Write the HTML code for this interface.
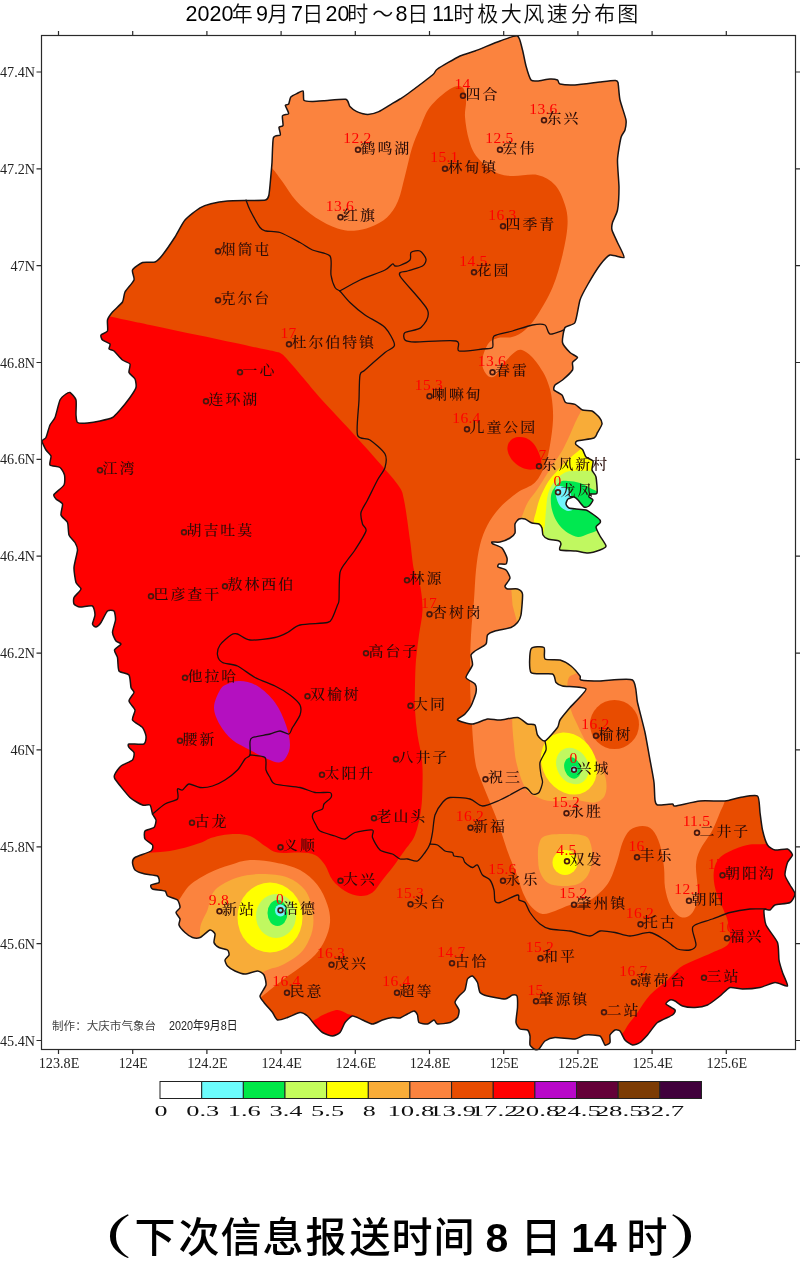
<!DOCTYPE html>
<html lang="zh"><head><meta charset="utf-8"><title>极大风速分布图</title>
<style>html,body{margin:0;padding:0;background:#fff}body{width:800px;height:1274px;overflow:hidden}svg{display:block}.st{font-family:"Liberation Serif","Noto Serif CJK SC",serif;font-size:15px;font-weight:500;fill:#280c08;letter-spacing:1.9px}.val{font-family:"Liberation Serif",serif;font-size:15.5px;fill:#ff0000;text-anchor:middle;letter-spacing:0.3px}.ax{font-family:"Liberation Serif",serif;font-size:14.5px;fill:#222}.lg{font-family:"Liberation Serif",serif;font-size:15px;fill:#111}.tl{font-family:"Liberation Sans","Noto Sans CJK SC",sans-serif;font-size:21.5px;fill:#000}.tc{font-family:"Liberation Sans","Noto Sans CJK SC",sans-serif;font-size:21px;font-weight:350;fill:#0a0a0a}.ft{font-family:"Liberation Sans","Noto Sans CJK SC",sans-serif;font-size:41px;font-weight:500;fill:#000;text-anchor:middle}.ftl{font-family:"Liberation Sans",sans-serif;font-size:41px;font-weight:700;fill:#000;text-anchor:middle}.ftp{font-family:"Liberation Serif","Noto Serif CJK SC",serif;font-size:42px;font-weight:700;fill:#000;text-anchor:middle}.cr{font-family:"Liberation Sans","Noto Sans CJK SC",sans-serif;font-size:11.5px;fill:#444}</style></head><body>
<svg width="800" height="1274" viewBox="0 0 800 1274" role="img" aria-label="2020年9月7日20时～8日11时极大风速分布图">
<rect width="800" height="1274" fill="#fff"/>
<defs><clipPath id="mapclip"><path d="M273.4,137.8 C274.3,134.9 279.7,136.1 280.3,135 C280.9,133.9 278.7,128.3 279,127.3 C279.3,126.3 282.6,126.6 283,125.4 C283.4,124.2 281.9,117.1 282.5,115.8 C283.1,114.5 288.3,114.7 288.6,113.6 C288.9,112.5 285.3,106.3 285.3,105.3 C285.3,104.3 288,105.1 288.6,104.2 C289.2,103.3 289.9,98.1 290.8,97 C291.7,95.9 295.7,94.1 297,93.5 C298.3,92.9 302.4,90.3 303.1,91 C303.8,91.7 303.1,99.3 304,100.4 C304.9,101.5 309.9,101.5 312,101.5 C314.1,101.5 320.2,101 323.8,100.8 C327.4,100.6 343,98.7 345.8,99.3 C348.6,99.9 348.7,105.2 349.9,106.5 C351.1,107.8 354.9,110.8 356.8,111.6 C358.7,112.4 365.5,114.4 367.8,114.4 C370.1,114.4 376.2,112.8 378.8,111.6 C381.4,110.4 390.2,104.7 392.5,103.4 C394.8,102.1 398.4,100 400,99 C401.6,98 404,96.6 407.5,94 C411,91.4 429.3,77.7 432.5,75 C435.7,72.3 434.6,71 437.5,69 C440.4,67 456,57.9 460,56 C464,54.1 470.7,52.6 475,51 C479.3,49.4 495.5,42.6 500,41 C504.5,39.4 515.1,35 517.5,36 C519.9,37 521.6,46.8 522.5,50 C523.4,53.2 525.1,62.8 526,66 C526.9,69.2 529.8,78.4 531,80 C532.2,81.6 535.5,81.1 537.5,81 C539.5,80.9 547.9,79.1 550,79 C552.1,78.9 556.4,79.5 557.5,80 C558.6,80.5 558.1,83.5 560,84 C561.9,84.5 570.7,85.2 575,85 C579.3,84.8 595.7,82.5 600,82 C604.3,81.5 613.1,80.4 615,80.5 C616.9,80.6 617.5,80.4 618,82.5 C618.5,84.6 619.1,96 620,100 C620.9,104 625.5,116.8 626,120 C626.5,123.2 625.5,128.1 625,130 C624.5,131.9 621.8,134.3 621,137.5 C620.2,140.7 617.7,154.7 617.5,160 C617.3,165.3 619,182.2 619,187.5 C619,192.8 618.2,206.3 617.5,210 C616.8,213.7 613.1,220.4 612.5,222.5 C611.9,224.6 611.5,227.9 612,230 C612.5,232.1 616.2,239.6 617.5,242.5 C618.8,245.4 624.8,256.2 624,257.5 C623.2,258.8 612.6,254.2 610,255 C607.4,255.8 602.4,261.8 600,265 C597.6,268.2 589.6,281.3 587.5,285 C585.4,288.7 581.3,296 580,300 C578.7,304 576.6,319.6 575,322.5 C573.4,325.4 566.3,325.4 565,327.5 C563.7,329.6 562,339.8 562.5,342.5 C563,345.2 568.4,350.9 570,352.5 C571.6,354.1 577.2,356.4 577.5,357.5 C577.8,358.6 573,361.2 572.5,362.5 C572,363.8 573.6,368.1 572.5,370 C571.4,371.9 564.4,378.4 562.5,380 C560.6,381.6 555.9,383.9 555,385 C554.1,386.1 553.3,388.9 554,390 C554.7,391.1 560.8,393.7 562,395 C563.2,396.3 564.2,401.5 565.6,402.5 C567,403.5 573.2,403.6 575,404.4 C576.8,405.2 580.7,409.3 582.5,410 C584.3,410.7 590.2,410.2 592,411 C593.8,411.8 598.3,416.1 599.4,417.5 C600.5,418.9 602.2,422.4 602,424 C601.8,425.6 598.4,431 597.5,432.5 C596.6,434 596.2,437.1 594,438 C591.8,438.9 578.9,440.3 577,441 C575.1,441.7 575.4,443.8 576,444.7 C576.6,445.6 581.4,448.1 582.5,449.4 C583.6,450.7 584.9,455.8 586,457 C587.1,458.2 592.4,459.6 593,461 C593.6,462.4 591.7,468.3 592,470 C592.3,471.7 595.5,474.5 596,477 C596.5,479.5 597.6,491.2 597,493 C596.4,494.8 590.9,493.6 590,494 C589.1,494.4 588.7,496.4 589,497 C589.3,497.6 593,499 593,500 C593,501 590,505.3 589,506 C588,506.7 585.2,507.6 584,507 C582.8,506.4 579.1,501.1 578,500 C576.9,498.9 575.1,497.1 574,497 C572.9,496.9 568.9,498.3 568,499 C567.1,499.7 565.9,503 566,504 C566.1,505 567.9,507.5 569,508 C570.1,508.5 574.2,508.8 576,509 C577.8,509.2 584.1,509.4 586,510 C587.9,510.6 592.5,513.9 594,515 C595.5,516.1 599.4,519.1 600,520 C600.6,520.9 600.4,522.3 600,523 C599.6,523.7 596,525.6 596,527 C596,528.4 598.9,534 600,536 C601.1,538 606,544.5 606,546 C606,547.5 601.9,549.3 600,550 C598.1,550.7 590.6,552.9 588,553 C585.4,553.1 579,551.3 576,551 C573,550.7 561.6,550.7 560,550 C558.4,549.3 561.1,545 561,544 C560.9,543 560.4,541.5 559,541 C557.6,540.5 549.7,539.6 548,539 C546.3,538.4 543.6,536.2 543,535 C542.4,533.8 542.4,529.2 542,528 C541.6,526.8 540.1,524.5 539,524 C537.9,523.5 533.5,523.5 532,523 C530.5,522.5 526.4,519.4 525,519 C523.6,518.6 520.1,518.5 519,519 C517.9,519.5 515.4,522.5 515,524 C514.6,525.5 515.5,531.5 515,533 C514.5,534.5 511.6,537 510,538 C508.4,539 501.9,541.6 500,542 C498.1,542.4 492.7,541.8 492,542 C491.3,542.2 491.9,543.4 493,544 C494.1,544.6 500.5,546.5 502,548 C503.5,549.5 506.6,556.3 507,558 C507.4,559.7 506.9,563.4 506,564 C505.1,564.6 499.9,563.7 499,564 C498.1,564.3 497.3,566.4 498,567 C498.7,567.6 504.7,568.8 506,570 C507.3,571.2 510.1,576.3 510,578 C509.9,579.7 505.3,584.8 505,586 C504.7,587.2 506.2,588.7 507.5,589 C508.8,589.3 515.9,588.5 517.5,589 C519.1,589.5 522.1,591.2 522.5,594 C522.9,596.8 521.5,612 521,615 C520.5,618 518.6,621.2 517.5,622.5 C516.4,623.8 513.4,626.6 511,627.5 C508.6,628.4 497.5,630.2 495,631 C492.5,631.8 488.5,633.6 487.5,635 C486.5,636.4 487.3,642.3 486,644 C484.7,645.7 476.6,649.8 475,651 C473.4,652.2 471.3,653.5 471,655 C470.7,656.5 473,662.6 472.5,665 C472,667.4 465.7,675.5 466,677.5 C466.3,679.5 473.9,682.4 475,684 C476.1,685.6 476.4,690.2 476,692.5 C475.6,694.8 472.2,703.7 471,706 C469.8,708.3 466.4,712.5 465,714 C463.6,715.5 456.7,718.9 457.5,720 C458.3,721.1 469.3,724.1 472.5,724 C475.7,723.9 484.6,719.4 487.5,719 C490.4,718.6 496.8,720.2 500,720 C503.2,719.8 514.6,717.1 517.5,717.5 C520.4,717.9 525.6,723.2 527.5,724 C529.4,724.8 533.9,723.8 535,725 C536.1,726.2 536.4,733.3 537.5,735 C538.6,736.7 542.9,741.8 545,741 C547.1,740.2 555.9,729.7 557.5,727.5 C559.1,725.3 558.7,722.1 560,720 C561.3,717.9 567.2,710.8 570,707.5 C572.8,704.2 586.8,691.3 586,689 C585.2,686.7 565.7,686.7 562.5,686 C559.3,685.3 557.1,683.8 556,682.5 C554.9,681.2 555.2,675.1 552.5,674 C549.8,672.9 533.3,675.2 531,672.5 C528.7,669.8 529.6,651.7 531,649 C532.4,646.3 542.5,646.4 544,647.5 C545.5,648.6 543.3,657.7 545,659 C546.7,660.3 557.2,659.3 560,660 C562.8,660.7 568.9,664.3 571,666 C573.1,667.7 578.9,674.5 580,676 C581.1,677.5 578.9,679.5 581,680 C583.1,680.5 594.5,681 600,681 C605.5,681 628.5,677.7 632.5,680 C636.5,682.3 636.2,696.9 637.5,702.5 C638.8,708.1 643.7,726.4 645,732.5 C646.3,738.6 649,754.7 650,760 C651,765.3 653.5,778.2 654,782.5 C654.5,786.8 654.6,797.6 655,800 C655.4,802.4 655.6,804.6 657.5,805 C659.4,805.4 670.6,803.9 672.5,804 C674.4,804.1 672.1,806.3 675,806 C677.9,805.7 694.7,801.5 700,801 C705.3,800.5 720.7,801.4 725,801 C729.3,800.6 736.5,798 740,797.5 C743.5,797 755.4,794.4 757.5,796 C759.6,797.6 759.5,808.9 760,812.5 C760.5,816.1 761.7,826.5 762.5,830 C763.3,833.5 766.2,842.9 767.5,845 C768.8,847.1 772.9,849.6 775,850 C777.1,850.4 785.6,848.5 787.5,849 C789.4,849.5 792.5,853.6 792.5,855 C792.5,856.4 788.3,860.4 787.5,862.5 C786.7,864.6 784.7,872.6 785,875 C785.3,877.4 788.9,883 790,885 C791.1,887 795,892.1 795,894 C795,895.9 792.1,901.3 790,902.5 C787.9,903.7 777.1,904.2 775,905 C772.9,905.8 771.2,909.5 770,910 C768.8,910.5 764.4,908.4 764,910 C763.6,911.6 764.6,921.5 766,925 C767.4,928.5 776.1,938.8 777.5,942.5 C778.9,946.2 778.5,956.8 779,960 C779.5,963.2 781.6,969.7 782.5,972.5 C783.4,975.3 788.3,984.9 787.5,986 C786.7,987.1 777.9,982.3 775,982.5 C772.1,982.7 763.5,986.8 760,987.5 C756.5,988.2 745.7,989 742.5,989 C739.3,989 732.4,986.8 730,987.5 C727.6,988.2 722.4,994.1 720,996 C717.6,997.9 710.2,1003.8 707.5,1005 C704.8,1006.2 697.7,1007.4 695,1007.5 C692.3,1007.6 684.6,1006.7 682.5,1006 C680.4,1005.3 676.3,1001.6 675,1001 C673.7,1000.4 671,999.7 670,1000 C669,1000.3 665.5,1002.9 666,1004 C666.5,1005.1 674.3,1008.8 675,1010 C675.7,1011.2 674.4,1013.7 672.5,1015 C670.6,1016.3 660.2,1020.4 657.5,1022.5 C654.8,1024.6 649.4,1032.9 647.5,1035 C645.6,1037.1 641.6,1041.4 640,1042.5 C638.4,1043.6 634.1,1045.3 632.5,1045 C630.9,1044.7 626.3,1041.5 625,1040 C623.7,1038.5 621.1,1032.1 620,1031 C618.9,1029.9 616.1,1029.6 615,1030 C613.9,1030.4 610.5,1033.7 610,1035 C609.5,1036.3 610.5,1041.4 610,1042.5 C609.5,1043.6 606.1,1045.7 605,1045 C603.9,1044.3 602.1,1037.1 600,1036 C597.9,1034.9 587.7,1034.7 585,1035 C582.3,1035.3 578.2,1038.7 575,1039 C571.8,1039.3 558.2,1037.3 555,1037.5 C551.8,1037.7 546.7,1039.8 545,1041 C543.3,1042.2 540.1,1048.1 539,1049 C537.9,1049.9 536,1049.9 535,1049.5 C534,1049.1 530.5,1046.4 530,1045 C529.5,1043.6 530.3,1037.6 530,1036 C529.7,1034.4 528.6,1030.7 527.5,1030 C526.4,1029.3 521.2,1029.8 520,1029 C518.8,1028.2 516.3,1024.8 516,1022.5 C515.7,1020.2 517.4,1010.3 517.5,1007.5 C517.6,1004.7 517.5,997.3 517,996 C516.5,994.7 513.8,994.7 512.5,995 C511.2,995.3 507.7,998.9 505,999 C502.3,999.1 490.2,996.7 487.5,996 C484.8,995.3 481.1,993.9 480,992.5 C478.9,991.1 478.3,984.3 477.5,982.5 C476.7,980.7 473.6,976.4 472.5,976 C471.4,975.6 468.3,977.5 467.5,979 C466.7,980.5 465.9,988.2 465,990 C464.1,991.8 460.1,994.7 459,996 C457.9,997.3 455,1001 455,1002.5 C455,1004 458.7,1008.4 459,1010 C459.3,1011.6 458.5,1016.2 457.5,1017.5 C456.5,1018.8 452.1,1021.8 450,1022.5 C447.9,1023.2 439.2,1024.3 437.5,1024 C435.8,1023.7 435.1,1020 434,1020 C432.9,1020 429.1,1023.7 427.5,1024 C425.9,1024.3 420.1,1023.5 419,1022.5 C417.9,1021.5 418,1016.2 417.5,1015 C417,1013.8 415.1,1011.1 414,1011 C412.9,1010.9 409,1013.3 407.5,1014 C406,1014.7 401.6,1017.6 400,1018 C398.4,1018.4 394.4,1017.3 392.5,1017.5 C390.6,1017.7 384.6,1019.3 382.5,1020 C380.4,1020.7 374.6,1024 372.5,1024 C370.4,1024 364.6,1020.9 362.5,1020 C360.4,1019.1 354.4,1015.7 352.5,1016 C350.6,1016.3 346.3,1020.7 345,1022.5 C343.7,1024.3 341.3,1031.1 340,1032.5 C338.7,1033.9 334.4,1036 332.5,1036 C330.6,1036 324.4,1033.7 322.5,1032.5 C320.6,1031.3 316.6,1026.8 315,1025 C313.4,1023.2 309.1,1017.3 307.5,1016 C305.9,1014.7 302.1,1012.3 300,1012.5 C297.9,1012.7 289.9,1016.7 287.5,1017.5 C285.1,1018.3 279.1,1020.5 277.5,1020 C275.9,1019.5 273.9,1014.4 272.5,1012.5 C271.1,1010.6 265.3,1004.3 264,1002.5 C262.7,1000.7 259.8,997.9 260,996 C260.2,994.1 265.6,987.2 266,985 C266.4,982.8 264.9,976.5 264,975 C263.1,973.5 259.5,971.1 257.5,971 C255.5,970.9 247.4,974 245,974 C242.6,974 236.9,971.9 235,971 C233.1,970.1 228.6,967.2 227.5,966 C226.4,964.8 224.8,961.2 225,960 C225.2,958.8 228.7,956.1 229,955 C229.3,953.9 228.6,950.8 227.5,950 C226.4,949.2 220.4,948.3 219,947.5 C217.6,946.7 214.4,943.9 214,942.5 C213.6,941.1 215.4,935.3 215,934 C214.6,932.7 211.6,929.6 210,930 C208.4,930.4 201.9,936.7 200,937.5 C198.1,938.3 194.1,938 192.5,937.5 C190.9,937 186.4,933.8 185,932.5 C183.6,931.2 179.5,926.4 179,925 C178.5,923.6 180.3,920.3 180,919 C179.7,917.7 176,913.7 176,912.5 C176,911.3 179.8,908.8 180,907.5 C180.2,906.2 178.8,901.2 177.5,900 C176.2,898.8 168.8,897 167.5,896 C166.2,895 166.6,891.7 165,891 C163.4,890.3 154,889.6 152.5,889 C151,888.4 150.3,885.7 151,885 C151.7,884.3 158.3,883.5 159,882.5 C159.7,881.5 159,876.9 157.5,876 C156,875.1 147.4,874.6 145,874 C142.6,873.4 136.3,871.2 135,870 C133.7,868.8 132.5,863.8 132.5,862.5 C132.5,861.2 133,858.7 135,857.5 C137,856.3 149.1,852.3 151,851 C152.9,849.7 153.1,846.3 152.5,845 C151.9,843.7 145.8,840.5 145,839 C144.2,837.5 144,832.2 145,831 C146,829.8 152.8,828.7 154,827.5 C155.2,826.3 156.2,821.4 156,820 C155.8,818.6 153.1,815.6 152.5,814 C151.9,812.4 151.1,806 150,805 C148.9,804 144.6,805.8 142.5,805 C140.4,804.2 132.9,800.3 130,797.5 C127.1,794.7 116.6,781.5 115,779 C113.4,776.5 114.4,775.4 115,774 C115.6,772.6 119.1,767.5 121,766 C122.9,764.5 131.1,761.4 132.5,760 C133.9,758.6 134.4,753.8 134,752.5 C133.6,751.2 129.5,748.4 129,747.5 C128.5,746.6 127.4,744.4 129,744 C130.6,743.6 142.2,744.9 144,744 C145.8,743.1 146.2,737.8 146,736 C145.8,734.2 143.9,729.2 142.5,727.5 C141.1,725.8 133.3,721.9 132.5,720 C131.7,718.1 135.4,712 135,710 C134.6,708 129.1,702.9 129,701 C128.9,699.1 133.8,693.9 134,692.5 C134.2,691.1 131.5,689.4 131,687.5 C130.5,685.6 130.3,676.8 129,675 C127.7,673.2 120.2,672.9 119,671 C117.8,669.1 118,659.7 117.5,657.5 C117,655.3 114.1,651.4 114.5,650 C114.9,648.6 120.8,645 121,644 C121.2,643 116.9,642.2 116,641 C115.1,639.8 112.6,634.7 112.5,632.5 C112.4,630.3 115.3,622.3 115.5,620 C115.7,617.7 114.9,612 114,611 C113.1,610 108.9,609.8 107.5,611 C106.1,612.2 102.2,620.8 101,622.5 C99.8,624.2 96.9,626.8 96,627 C95.1,627.2 92.6,625.3 92.5,624 C92.4,622.7 95,616.9 95,615 C95,613.1 94.1,606.9 92.5,606 C90.9,605.1 82,607.2 80,607 C78,606.8 74.6,605 74,604 C73.4,603 73.3,599.1 74,597.5 C74.7,595.9 80.8,590.6 81,589 C81.2,587.4 76.7,584.8 76,582.5 C75.3,580.2 73.8,571 74,567.5 C74.2,564 77.4,552.7 77.5,550 C77.6,547.3 75.9,544.1 75,542.5 C74.1,540.9 69.8,537.1 69,535 C68.2,532.9 68.4,524.6 67.5,522.5 C66.6,520.4 61.5,517 61,515 C60.5,513 63,505.7 62.5,504 C62,502.3 56.9,500 56,499 C55.1,498 53.1,496 54,494.5 C54.9,493 62.9,487.1 64,485 C65.1,482.9 64.9,476.9 64.5,475 C64.1,473.1 61.5,468.6 60,467.5 C58.5,466.4 51,466.2 50,465 C49,463.8 51.4,457.6 51,456 C50.6,454.4 47,451.6 46,450 C45,448.4 42,442.3 42,441 C42,439.7 45.1,439.2 46,437.5 C46.9,435.8 49,427.1 50,425 C51,422.9 53.9,420.2 55,417.5 C56.1,414.8 58.8,402.5 60,400 C61.2,397.5 64.9,394.8 66,394 C67.1,393.2 68.9,391.9 70,392.5 C71.1,393.1 75.4,397.6 76,400 C76.6,402.4 75.8,412.6 76,415 C76.2,417.4 76.3,421.6 77.5,422.5 C78.7,423.4 85.1,423.2 87.5,423 C89.9,422.8 97.3,421.6 100,421 C102.7,420.4 110.4,418.7 112.5,417.5 C114.6,416.3 118.1,412.1 120,410 C121.9,407.9 128.3,399.9 130,397.5 C131.7,395.1 135.5,389.5 136,387.5 C136.5,385.5 135.7,380.6 135,379 C134.3,377.4 129.5,374.1 129,372.5 C128.5,370.9 130.7,365.3 130,364 C129.3,362.7 124.2,361.4 122.5,360 C120.8,358.6 115.4,352.2 114,351 C112.6,349.8 109.4,349.7 109,349 C108.6,348.3 110.7,345 110,344 C109.3,343 103.5,341 102.5,340 C101.5,339 100.5,336 101,335 C101.5,334 106.8,332.6 107.5,331 C108.2,329.4 107,322 107.5,320 C108,318 110.9,313.9 112.5,312 C114.1,310.1 121.2,304.1 122.5,302 C123.8,299.9 123.8,294.3 125,292 C126.2,289.7 133.2,282.3 134,280 C134.8,277.7 131.6,271.9 132.5,270 C133.4,268.1 140.1,263.4 142.5,262.5 C144.9,261.6 152.9,262.8 155,262 C157.1,261.2 160.4,257.7 162.5,255 C164.6,252.3 172.6,240.7 175,237 C177.4,233.3 182.3,223.1 185,220 C187.7,216.9 197.2,209.6 200,207.9 C202.8,206.2 208.1,204.5 211,203.8 C213.9,203.1 223.4,201.4 227.5,201 C231.6,200.6 245.4,200.6 249.5,200.5 C253.6,200.4 263.4,200.5 265.5,200 C267.6,199.5 268.3,197.6 268.8,195.5 C269.3,193.4 270.2,183.5 270.5,180 C270.8,176.5 271.7,167 272,162.5 C272.3,158 272.5,140.7 273.4,137.8Z"/></clipPath></defs>
<g clip-path="url(#mapclip)">
<rect x="30" y="30" width="770" height="1025" fill="#E84C00"/>
<path d="M255,150 C257.8,174.7 267.4,162.7 272,168 C276.6,173.3 278.4,176.3 282.5,181.8 C286.6,187.3 290.8,195.1 296.3,201 C301.8,206.9 308.6,212.9 315.5,217.5 C322.4,222.1 331.1,226.3 337.5,228.5 C343.9,230.7 348.5,230.9 354,230.7 C359.5,230.5 365,229.3 370.5,227.1 C376,224.9 382.4,221.8 387,217.5 C391.6,213.2 395,207.9 398,201 C401,194.1 402.6,185.1 404.9,176.3 C407.2,167.5 409.5,156.1 412,148 C414.5,139.9 417,134.8 420,128 C423,121.2 425,113.5 430,107 C435,100.5 444.7,92.3 450,89 C455.3,85.7 459.3,85.2 462,87 C464.7,88.8 465.5,95 466,100 C466.5,105 464.5,110.3 465,117 C465.5,123.7 467,133.3 469,140 C471,146.7 472.7,151.7 477,157 C481.3,162.3 489.2,168.8 495,172 C500.8,175.2 504.9,175.5 512,176 C519.1,176.5 530.3,173.5 537.5,175 C544.7,176.5 550.4,180 555,185 C559.6,190 562.9,198.3 565,205 C567.1,211.7 567.9,216.7 567.5,225 C567.1,233.3 565,244.6 562.5,255 C560,265.4 556.7,277.5 552.5,287.5 C548.3,297.5 542.1,307.9 537.5,315 C532.9,322.1 529.2,326.3 525,330 C520.8,333.7 516.5,335.7 512,337 C507.5,338.3 502,336.8 498,338 C494,339.2 490.7,340 488,344 C485.3,348 482.2,356.8 482,362 C481.8,367.2 484.8,372.7 487,375 C489.2,377.3 492,378.2 495,376 C498,373.8 501.7,366 505,362 C508.3,358 512.2,354 515,352 C517.8,350 519.2,349.2 522,350 C524.8,350.8 528.5,353.3 532,357 C535.5,360.7 540.2,367.2 543,372 C545.8,376.8 547.5,381.3 549,386 C550.5,390.7 551.3,394.3 552,400 C552.7,405.7 553.3,412.5 553,420 C552.7,427.5 551.3,437.5 550,445 C548.7,452.5 547.5,458.8 545,465 C542.5,471.2 539.6,477.9 535,482.5 C530.4,487.1 523.3,488.3 517.5,492.5 C511.7,496.7 505,502.1 500,507.5 C495,512.9 490.8,518.8 487.5,525 C484.2,531.2 481.9,537.5 480,545 C478.1,552.5 477,560.8 476,570 C475,579.2 474.8,589.2 474,600 C473.2,610.8 471.7,621.7 471,635 C470.3,648.3 469.8,665 470,680 C470.2,695 471.2,711.7 472,725 C472.8,738.3 473.8,751.7 475,760 C476.2,768.3 476.8,768.8 479,775 C481.2,781.2 484.8,789.6 488,797.5 C491.2,805.4 494.7,813.3 498,822.5 C501.3,831.7 505,844.2 508,852.5 C511,860.8 513.3,865.4 516,872.5 C518.7,879.6 521.3,889.2 524,895 C526.7,900.8 528.9,904.3 532,907.5 C535.1,910.7 538.7,913.4 542.5,914 C546.3,914.6 550.4,912.5 555,911 C559.6,909.5 565,906.3 570,905 C575,903.7 580,905.1 585,903 C590,900.9 595.8,896.3 600,892.5 C604.2,888.7 607.1,885.4 610,880 C612.9,874.6 615.4,866.2 617.5,860 C619.6,853.8 620.4,847.5 622.5,842.5 C624.6,837.5 626.7,832.8 630,830 C633.3,827.2 638.8,826 642.5,826 C646.2,826 649.6,826.8 652.5,830 C655.4,833.2 658.1,838.8 660,845 C661.9,851.2 663.2,860.4 664,867.5 C664.8,874.6 664,881.2 665,887.5 C666,893.8 667.9,900.4 670,905 C672.1,909.6 675,912.9 677.5,915 C680,917.1 682.5,917.9 685,917.5 C687.5,917.1 690.4,915.4 692.5,912.5 C694.6,909.6 696.7,904.6 697.5,900 C698.3,895.4 697.8,890.8 697.5,885 C697.2,879.2 695.6,870.8 696,865 C696.4,859.2 697.2,855.8 700,850 C702.8,844.2 709.2,836.2 712.5,830 C715.8,823.8 717.9,817.5 720,812.5 C722.1,807.5 723.8,805.4 725,800 C726.2,794.6 726.7,790 727,780 C727.3,770 727,753.3 727,740 C727,726.7 721.5,708.3 727,700 C732.5,691.7 744.5,691.7 760,690 C775.5,688.3 810,801.7 820,690 C830,578.3 914.2,131.7 820,20 C725.8,-91.7 349.2,-1.7 255,20 C160.8,41.7 252.2,125.3 255,150Z" fill="#FB833E"/>
<path d="M170,910 C173.2,901.7 175.7,904.2 179,900 C182.3,895.8 184.8,889.6 190,885 C195.2,880.4 203.3,875.8 210,872.5 C216.7,869.2 223.3,867.1 230,865 C236.7,862.9 242.5,860.4 250,860 C257.5,859.6 266.7,860.8 275,862.5 C283.3,864.2 292.9,866.2 300,870 C307.1,873.8 312.9,879.2 317.5,885 C322.1,890.8 325.4,898.8 327.5,905 C329.6,911.2 330.4,916.7 330,922.5 C329.6,928.3 327.5,934.6 325,940 C322.5,945.4 319.2,950.4 315,955 C310.8,959.6 305.4,963.3 300,967.5 C294.6,971.7 288.8,975.2 282.5,980 C276.2,984.8 267.9,991.8 262.5,996 C257.1,1000.2 260.4,1004.3 250,1005 C239.6,1005.7 215,1009.2 200,1000 C185,990.8 165,965 160,950 C155,935 166.8,918.3 170,910Z" fill="#FB833E"/>
<ellipse cx="614.5" cy="724.5" rx="24.5" ry="24.5" fill="#E84C00"/>
<path d="M585,400 C575.2,401.8 582.7,407.2 581,411 C579.3,414.8 576.9,418.8 575,423 C573.1,427.2 571.6,431.3 569.4,436 C567.2,440.7 564.5,446.6 562,451 C559.5,455.4 556.9,458.7 554.4,462.5 C551.9,466.3 549.8,469.6 547,474 C544.2,478.4 540.7,484.3 537.5,489 C534.3,493.7 530.5,497.7 528,502 C525.5,506.3 524.2,510.3 522.5,515 C520.8,519.7 511.8,522.5 518,530 C524.2,537.5 539.7,555 560,560 C580.3,565 626.7,586.7 640,560 C653.3,533.3 649.2,426.7 640,400 C630.8,373.3 594.8,398.2 585,400Z" fill="#F8AC38"/>
<path d="M511,585 L512.5,605 L517.5,624 L530,624 L530,585Z" fill="#F8AC38"/>
<path d="M512.5,712 C511.5,722.8 513.2,736.2 514,745 C514.8,753.8 515.2,757.9 517,765 C518.8,772.1 522,782.3 525,787.5 C528,792.7 530.8,793.8 535,796 C539.2,798.2 543.3,800.3 550,801 C556.7,801.7 567.5,799.8 575,800 C582.5,800.2 590,803.3 595,802.5 C600,801.7 603.2,798.8 605,795 C606.8,791.2 606.8,785 606,780 C605.2,775 603.1,770.8 600,765 C596.9,759.2 591.2,751.7 587.5,745 C583.8,738.3 580.2,730.8 577.5,725 C574.8,719.2 572.7,715.8 571,710 C569.3,704.2 567.8,695.4 567.5,690 C567.2,684.6 567.3,680.5 569,677.5 C570.7,674.5 575.3,674.9 577.5,672 C579.7,669.1 582.4,665.3 582,660 C581.6,654.7 584.5,643.3 575,640 C565.5,636.7 534.2,633.3 525,640 C515.8,646.7 522.1,668 520,680 C517.9,692 513.5,701.2 512.5,712Z" fill="#F8AC38"/>
<path d="M545,836 C549.3,834.3 558.3,834 565,834 C571.7,834 580.7,834.2 585,836 C589.3,837.8 589.8,841 591,845 C592.2,849 592.5,855 592,860 C591.5,865 590.3,871 588,875 C585.7,879 582.3,882.2 578,884 C573.7,885.8 567,886.2 562,886 C557,885.8 551.7,885.3 548,883 C544.3,880.7 541.7,876.2 540,872 C538.3,867.8 538.2,862.7 538,858 C537.8,853.3 537.8,847.7 539,844 C540.2,840.3 540.7,837.7 545,836Z" fill="#F8AC38"/>
<path d="M200,930 C200.4,921.7 205,916.7 207.5,910 C210,903.3 210,895.4 215,890 C220,884.6 229.6,880.2 237.5,877.5 C245.4,874.8 254.2,874 262.5,874 C270.8,874 280.4,874.8 287.5,877.5 C294.6,880.2 300.8,884.6 305,890 C309.2,895.4 311.2,903.3 312.5,910 C313.8,916.7 313.8,923.8 312.5,930 C311.2,936.2 307.9,942.9 305,947.5 C302.1,952.1 299.2,954.4 295,957.5 C290.8,960.6 285,963.8 280,966 C275,968.2 271.7,967.8 265,971 C258.3,974.2 250,986.8 240,985 C230,983.2 211.7,969.2 205,960 C198.3,950.8 199.6,938.3 200,930Z" fill="#F8AC38"/>
<path d="M590,440 C583.7,441.3 585.3,445 582,448 C578.7,451 574,454.3 570,458 C566,461.7 561.7,466 558,470 C554.3,474 551,477.3 548,482 C545,486.7 542,493 540,498 C538,503 537,507.7 536,512 C535,516.3 533.3,518.5 534,524 C534.7,529.5 525.7,539 540,545 C554.3,551 606.7,577.5 620,560 C633.3,542.5 625,460 620,440 C615,420 596.3,438.7 590,440Z" fill="#FFFF00"/>
<ellipse cx="569" cy="763.5" rx="26.5" ry="32.5" fill="#FFFF00" transform="rotate(-30 569 763.5)"/>
<ellipse cx="565" cy="862.5" rx="12.5" ry="12.5" fill="#FFFF00"/>
<ellipse cx="270" cy="917.5" rx="32.5" ry="35" fill="#FFFF00"/>
<path d="M600,471 C592.3,471 580,470.7 574,471 C568,471.3 567.3,471.2 564,473 C560.7,474.8 556.7,478.5 554,482 C551.3,485.5 549.3,489.3 548,494 C546.7,498.7 546.5,505 546,510 C545.5,515 545.3,519 545,524 C544.7,529 542.3,534 544,540 C545.7,546 542.3,556.7 555,560 C567.7,563.3 609.2,574.8 620,560 C630.8,545.2 623.3,485.8 620,471 C616.7,456.2 607.7,471 600,471Z" fill="#C0F860"/>
<ellipse cx="572.5" cy="766" rx="15.5" ry="19" fill="#C0F860" transform="rotate(-30 572.5 766)"/>
<ellipse cx="276" cy="916" rx="20" ry="22" fill="#C0F860"/>
<path d="M560,482 C562.7,480.2 564.7,480.8 568,481 C571.3,481.2 576.3,481.8 580,483 C583.7,484.2 586.7,486.2 590,488 C593.3,489.8 596.7,490.3 600,494 C603.3,497.7 610,504.3 610,510 C610,515.7 603.7,524 600,528 C596.3,532 591.7,532.5 588,534 C584.3,535.5 581.3,537.2 578,537 C574.7,536.8 571,534.8 568,533 C565,531.2 562.3,528.8 560,526 C557.7,523.2 555.5,519.7 554,516 C552.5,512.3 551.3,508 551,504 C550.7,500 550.5,495.7 552,492 C553.5,488.3 557.3,483.8 560,482Z" fill="#00E850"/>
<ellipse cx="572.5" cy="768" rx="8" ry="11" fill="#00E850" transform="rotate(-20 572.5 768)"/>
<ellipse cx="277.5" cy="913" rx="10" ry="13" fill="#00E850"/>
<path d="M556,487 C557.3,485.5 561.7,486.2 564,487 C566.3,487.8 568.7,489.8 570,492 C571.3,494.2 571.3,497.3 572,500 C572.7,502.7 574.7,506.2 574,508 C573.3,509.8 570.3,511.3 568,511 C565.7,510.7 562,508.5 560,506 C558,503.5 556.7,499.2 556,496 C555.3,492.8 554.7,488.5 556,487Z" fill="#70F4FC"/>
<ellipse cx="574" cy="769.5" rx="3.5" ry="3.5" fill="#70F4FC"/>
<ellipse cx="280.5" cy="910.5" rx="5.5" ry="6" fill="#70F4FC"/>
<path d="M20,297 C34.6,206.3 85.8,311.3 107.5,316 C129.2,320.7 134.6,321.7 150,325 C165.4,328.3 183.3,332.1 200,335.6 C216.7,339.1 237.7,343.6 250,346.2 C262.3,348.8 268.8,350.1 274,351.3 C279.2,352.5 278.8,352.2 281,353.5 C283.2,354.8 283,354.6 287,359 C291,363.4 299.2,373.2 305,380 C310.8,386.8 314.5,391.7 322,400 C329.5,408.3 341.2,420.3 350,430 C358.8,439.7 367,448.8 375,458 C383,467.2 393.2,478 398,485 C402.8,492 402,490.8 404,500 C406,509.2 408.3,528.3 410,540 C411.7,551.7 412.3,562.5 414,570 C415.7,577.5 418.6,578.3 420,585 C421.4,591.7 422.7,601.7 422.5,610 C422.3,618.3 420.1,626.7 419,635 C417.9,643.3 416.7,651.7 416,660 C415.3,668.3 415.2,676.7 415,685 C414.8,693.3 414.6,701.7 415,710 C415.4,718.3 416.3,726.7 417.5,735 C418.7,743.3 421.2,751.7 422,760 C422.8,768.3 422.7,776.7 422.5,785 C422.3,793.3 422.2,801.7 421,810 C419.8,818.3 417.7,828.3 415,835 C412.3,841.7 407.5,846.3 405,850 C402.5,853.7 402.1,854.1 400,857 C397.9,859.9 395.4,863.7 392.5,867.5 C389.6,871.3 385.8,875.8 382.5,880 C379.2,884.2 376.2,889.8 372.5,892.5 C368.8,895.2 364.6,896.2 360,896 C355.4,895.8 349.6,893.7 345,891 C340.4,888.3 335.8,884.3 332.5,880 C329.2,875.7 327.9,869.2 325,865 C322.1,860.8 319.2,857.1 315,855 C310.8,852.9 306.2,852.9 300,852.5 C293.8,852.1 283.3,853.6 277.5,852.5 C271.7,851.4 269.6,848.8 265,846 C260.4,843.2 255.4,838 250,836 C244.6,834 238.8,833.8 232.5,834 C226.2,834.2 217.9,836 212.5,837.5 C207.1,839 206.2,840.9 200,843 C193.8,845.1 182.9,848.4 175,850 C167.1,851.6 165,851.5 152.5,852.5 C140,853.5 122.1,854.8 100,856 C77.9,857.2 33.3,953.2 20,860 C6.7,766.8 5.4,387.7 20,297Z" fill="#FF0000"/>
<path d="M800,840 C794.2,804 773.3,843.2 765,844 C756.7,844.8 755,843.7 750,844.5 C745,845.3 740,846.8 735,849 C730,851.2 723.5,854 720,857.5 C716.5,861 714.8,865 714,870 C713.2,875 713.6,881.2 715,887.5 C716.4,893.8 720.4,902.1 722.5,907.5 C724.6,912.9 726.2,915.4 727.5,920 C728.8,924.6 730,930.8 730,935 C730,939.2 730.4,942.1 727.5,945 C724.6,947.9 717.9,950 712.5,952.5 C707.1,955 700.4,957.5 695,960 C689.6,962.5 684.6,964.2 680,967.5 C675.4,970.8 672.5,975.4 667.5,980 C662.5,984.6 655,989.6 650,995 C645,1000.4 641.7,1006.7 637.5,1012.5 C633.3,1018.3 628.2,1023.8 625,1030 C621.8,1036.2 605.5,1045 618,1050 C630.5,1055 669.7,1058.3 700,1060 C730.3,1061.7 783.3,1096.7 800,1060 C816.7,1023.3 805.8,876 800,840Z" fill="#FF0000"/>
<path d="M540.5,467 C539.2,468.6 535.8,469.2 533,469.5 C530.2,469.8 527,469.6 524,468.5 C521,467.4 517.5,465.2 515,463 C512.5,460.8 510.2,457.7 509,455 C507.8,452.3 507.2,449.5 507.5,447 C507.8,444.5 509.2,441.7 511,440 C512.8,438.3 515.5,437.3 518,437 C520.5,436.7 523.5,437 526,438 C528.5,439 531,440.8 533,443 C535,445.2 536.7,448.2 538,451 C539.3,453.8 540.6,457.3 541,460 C541.4,462.7 541.8,465.4 540.5,467Z" fill="#FF0000"/>
<path d="M312,1024 C311.7,1020.3 315.8,1019.7 318,1018 C320.2,1016.3 321.8,1015.3 325,1014 C328.2,1012.7 333.8,1010 337.5,1010 C341.2,1010 344.8,1012.7 347.5,1014 C350.2,1015.3 353.6,1013.7 354,1018 C354.4,1022.3 355.7,1036.3 350,1040 C344.3,1043.7 326.3,1042.7 320,1040 C313.7,1037.3 312.3,1027.7 312,1024Z" fill="#FF0000"/>
<path d="M214,707.5 C214,701.7 217.8,693.9 220,690 C222.2,686.1 224.2,685.5 227.5,684 C230.8,682.5 235,680.7 240,681 C245,681.3 251.7,682.4 257.5,686 C263.3,689.6 270.2,696 275,702.5 C279.8,709 283.5,717.9 286,725 C288.5,732.1 290,739.6 290,745 C290,750.4 287.8,754.6 286,757.5 C284.2,760.4 282.1,762.2 279,762.5 C275.9,762.8 272.3,761.1 267.5,759 C262.7,756.9 255.8,753.2 250,750 C244.2,746.8 237.5,744.2 232.5,740 C227.5,735.8 223.1,730.4 220,725 C216.9,719.6 214,713.3 214,707.5Z" fill="#B410C0"/>
</g>
<g fill="none" stroke="#1a1010" stroke-width="1.3" stroke-linejoin="round" stroke-linecap="round">
<path d="M246,200 C246.5,201.3 248.1,206.3 250,210 C251.9,213.7 257.9,224.7 260,227.5 C262.1,230.3 263.3,230.3 266,231 C268.7,231.7 275.5,231 280,232.5 C284.5,234 295.7,240.2 300,242.5 C304.3,244.8 308.5,248.2 312.5,250 C316.5,251.8 327.5,252.7 330,256 C332.5,259.3 330.3,270.8 331,275 C331.7,279.2 333.8,285.4 335,287.5 C336.2,289.6 339.3,290.5 340,291"/>
<path d="M340,291 C342.7,289.5 354,282.8 360,280 C366,277.2 380.7,272.1 385,270 C389.3,267.9 391.2,264.5 392.5,264 C393.8,263.5 394,265.8 395,266 C396,266.2 398,266.3 400,265.5 C402,264.7 408.5,261.7 410,260 C411.5,258.3 409.7,253.7 411,252.5 C412.3,251.3 418,250.1 420,251 C422,251.9 425.7,257 426,259 C426.3,261 425,264.4 422.5,266 C420,267.6 410.5,269.7 407.5,271 C404.5,272.3 397.3,270.8 400,276 C402.7,281.2 424.7,303.1 427.5,310 C430.3,316.9 424,324.5 421,327.5 C418,330.5 407.1,330.8 405,332.5 C402.9,334.2 403.7,338.7 405,340 C406.3,341.3 408.2,341.9 415,342 C421.8,342.1 450.1,339.8 456,341 C461.9,342.2 455.5,349.9 459,351 C462.5,352.1 478,349.5 482.5,349 C487,348.5 491,349.2 492.5,347.5 C494,345.8 491.3,338.2 494,336 C496.7,333.8 507.4,332.5 512.5,331 C517.6,329.5 528.2,325.8 532.5,325 C536.8,324.2 542.7,323.8 545,325 C547.3,326.2 547.5,333.3 550,334 C552.5,334.7 562.1,330.5 564,330"/>
<path d="M340,291 C341.3,292.5 346.7,299.3 350,302.5 C353.3,305.7 360.3,311.7 365,315 C369.7,318.3 381.1,323.5 385,327.5 C388.9,331.5 394.5,341.7 394.5,345 C394.5,348.3 388.9,349.2 385,352.5 C381.1,355.8 368.3,367 365,370 C361.7,373 360.8,371 360,375 C359.2,379 359.3,392 359,400 C358.7,408 356,429.7 357.5,435 C359,440.3 366.3,437.5 370,440 C373.7,442.5 383,450.3 385,454 C387,457.7 386,464 385,467.5 C384,471 379.8,475.7 377.5,480 C375.2,484.3 369.7,495.7 367.5,500 C365.3,504.3 361.7,509.3 361,512.5 C360.3,515.7 361.8,521.5 362.5,524 C363.2,526.5 367,527.5 366,531 C365,534.5 357.5,546.1 355,550 C352.5,553.9 349.5,557 347.5,560 C345.5,563 341.1,567.2 340,572.5 C338.9,577.8 339.3,595.7 339,600 C338.7,604.3 338.4,602.7 337.5,605 C336.6,607.3 333.8,615.2 332.5,617.5 C331.2,619.8 331.8,621.5 327.5,622.5 C323.2,623.5 305.3,623.7 300,625 C294.7,626.3 290.8,630.8 287.5,632.5 C284.2,634.2 280,636.5 275,637.5 C270,638.5 255,640.5 250,640 C245,639.5 240,634.7 237.5,634 C235,633.3 233.3,633.5 231,635 C228.7,636.5 221.8,642.3 220,645 C218.2,647.7 217.2,652.7 217.5,655 C217.8,657.3 219.8,661 222.5,662.5 C225.2,664 233.2,664 237.5,666 C241.8,668 250,674.8 255,677.5 C260,680.2 270.3,683.7 275,686 C279.7,688.3 286.7,692.5 290,695 C293.3,697.5 298.7,702.3 300,705 C301.3,707.7 301,712 300,715 C299,718 294,725 292.5,727.5 C291,730 290.7,733.5 289,734 C287.3,734.5 282.5,731 280,731 C277.5,731 273.7,733.1 270,734 C266.3,734.9 255.2,736.4 252.5,737.5 C249.8,738.6 250.3,740.2 250,742.5 C249.7,744.8 250.7,752.8 250,755 C249.3,757.2 246.7,757 245,759 C243.3,761 240.2,767.2 237.5,770 C234.8,772.8 228.3,777.9 225,780 C221.7,782.1 215.8,785 212.5,786 C209.2,787 203.1,787.8 200,787.5 C196.9,787.2 191.3,783.7 189,784 C186.7,784.3 184,789.3 182.5,790 C181,790.7 178.2,787.8 177.5,789 C176.8,790.2 179.2,797 177.5,799 C175.8,801 168.3,802 165,804 C161.7,806 154.2,812.7 152.5,814"/>
<path d="M250,755 C252,755.3 262.9,755.5 265,757.5 C267.1,759.5 265.3,767.3 266,770 C266.7,772.7 268.8,775.6 270,777.5 C271.2,779.4 271,782.7 275,784 C279,785.3 294.7,786.4 300,787.5 C305.3,788.6 311,791.8 315,792.5 C319,793.2 327.9,791.8 330,792.5 C332.1,793.2 331.8,796 331,797.5 C330.2,799 325.1,802.5 324,804 C322.9,805.5 323.8,807.9 322.5,809 C321.2,810.1 315.3,811.4 314,812.5 C312.7,813.6 312.2,815.8 312.5,817.5 C312.8,819.2 315,823.2 316,825 C317,826.8 317.5,829.5 320,831 C322.5,832.5 331.7,834.9 335,836 C338.3,837.1 342.3,839.5 345,839 C347.7,838.5 351.3,833.7 355,832.5 C358.7,831.3 370.2,829.3 372.5,830 C374.8,830.7 371.5,834.8 372.5,837.5 C373.5,840.2 377.3,847.8 380,850 C382.7,852.2 389.8,852.8 392.5,854 C395.2,855.2 398,858.3 400,859 C402,859.7 405.2,858.7 407.5,859 C409.8,859.3 415.2,861.9 417.5,861 C419.8,860.1 423.3,854.8 425,852.5 C426.7,850.2 429,846.7 430,844 C431,841.3 431.8,836.4 432.5,832.5 C433.2,828.6 433.7,819 435,815 C436.3,811 440.5,804.8 442.5,802.5 C444.5,800.2 446.3,798 450,797.5 C453.7,797 465.7,797.9 470,799 C474.3,800.1 478.5,805.9 482.5,806 C486.5,806.1 496.3,801.5 500,800 C503.7,798.5 506.7,796.7 510,795 C513.3,793.3 522,787.6 525,787.5 C528,787.4 530.6,793.3 532.5,794 C534.4,794.7 537.7,794 539,792.5 C540.3,791 542.2,784.8 542.5,782.5 C542.8,780.2 541.3,777.7 541,775 C540.7,772.3 539.3,765.8 540,762.5 C540.7,759.2 545.3,752.9 546,750 C546.7,747.1 545.1,742.2 545,741"/>
<path d="M430,844 C431,844.1 435.5,844.1 437.5,845 C439.5,845.9 443,850 445,851 C447,852 451.3,851.8 452.5,852.5 C453.7,853.2 452.7,855.3 454,856 C455.3,856.7 461,856.6 462.5,857.5 C464,858.4 463.7,861.2 465,862.5 C466.3,863.8 470.8,867.2 472.5,867.5 C474.2,867.8 476.2,864 477.5,865 C478.8,866 480.8,873 482.5,875 C484.2,877 488.5,878 490,880 C491.5,882 493.3,887.2 494,890 C494.7,892.8 494.2,899.3 495,901 C495.8,902.7 497,903.3 500,902.5 C503,901.7 515,895.3 517.5,895 C520,894.7 518,899 519,900 C520,901 523.5,900.8 525,902.5 C526.5,904.2 528,909.6 530,912.5 C532,915.4 537.3,921.8 540,924 C542.7,926.2 546,928.1 550,929 C554,929.9 564.7,930.1 570,931 C575.3,931.9 586,936 590,936 C594,936 596.7,931.5 600,931 C603.3,930.5 611,931.8 615,932.5 C619,933.2 625.3,936 630,936 C634.7,936 645.3,932 650,932.5 C654.7,933 661.3,937.8 665,940 C668.7,942.2 674.2,947.7 677.5,949 C680.8,950.3 687.5,950.5 690,950 C692.5,949.5 695.7,947.7 696,945 C696.3,942.3 692.6,932.7 692.5,930 C692.4,927.3 692.3,926.5 695,925 C697.7,923.5 707.8,920.7 712.5,919 C717.2,917.3 725,913.8 730,912.5 C735,911.2 745.2,909.5 750,909 C754.8,908.5 763.9,909 766,909"/>
</g>
<path d="M273.4,137.8 C274.3,134.9 279.7,136.1 280.3,135 C280.9,133.9 278.7,128.3 279,127.3 C279.3,126.3 282.6,126.6 283,125.4 C283.4,124.2 281.9,117.1 282.5,115.8 C283.1,114.5 288.3,114.7 288.6,113.6 C288.9,112.5 285.3,106.3 285.3,105.3 C285.3,104.3 288,105.1 288.6,104.2 C289.2,103.3 289.9,98.1 290.8,97 C291.7,95.9 295.7,94.1 297,93.5 C298.3,92.9 302.4,90.3 303.1,91 C303.8,91.7 303.1,99.3 304,100.4 C304.9,101.5 309.9,101.5 312,101.5 C314.1,101.5 320.2,101 323.8,100.8 C327.4,100.6 343,98.7 345.8,99.3 C348.6,99.9 348.7,105.2 349.9,106.5 C351.1,107.8 354.9,110.8 356.8,111.6 C358.7,112.4 365.5,114.4 367.8,114.4 C370.1,114.4 376.2,112.8 378.8,111.6 C381.4,110.4 390.2,104.7 392.5,103.4 C394.8,102.1 398.4,100 400,99 C401.6,98 404,96.6 407.5,94 C411,91.4 429.3,77.7 432.5,75 C435.7,72.3 434.6,71 437.5,69 C440.4,67 456,57.9 460,56 C464,54.1 470.7,52.6 475,51 C479.3,49.4 495.5,42.6 500,41 C504.5,39.4 515.1,35 517.5,36 C519.9,37 521.6,46.8 522.5,50 C523.4,53.2 525.1,62.8 526,66 C526.9,69.2 529.8,78.4 531,80 C532.2,81.6 535.5,81.1 537.5,81 C539.5,80.9 547.9,79.1 550,79 C552.1,78.9 556.4,79.5 557.5,80 C558.6,80.5 558.1,83.5 560,84 C561.9,84.5 570.7,85.2 575,85 C579.3,84.8 595.7,82.5 600,82 C604.3,81.5 613.1,80.4 615,80.5 C616.9,80.6 617.5,80.4 618,82.5 C618.5,84.6 619.1,96 620,100 C620.9,104 625.5,116.8 626,120 C626.5,123.2 625.5,128.1 625,130 C624.5,131.9 621.8,134.3 621,137.5 C620.2,140.7 617.7,154.7 617.5,160 C617.3,165.3 619,182.2 619,187.5 C619,192.8 618.2,206.3 617.5,210 C616.8,213.7 613.1,220.4 612.5,222.5 C611.9,224.6 611.5,227.9 612,230 C612.5,232.1 616.2,239.6 617.5,242.5 C618.8,245.4 624.8,256.2 624,257.5 C623.2,258.8 612.6,254.2 610,255 C607.4,255.8 602.4,261.8 600,265 C597.6,268.2 589.6,281.3 587.5,285 C585.4,288.7 581.3,296 580,300 C578.7,304 576.6,319.6 575,322.5 C573.4,325.4 566.3,325.4 565,327.5 C563.7,329.6 562,339.8 562.5,342.5 C563,345.2 568.4,350.9 570,352.5 C571.6,354.1 577.2,356.4 577.5,357.5 C577.8,358.6 573,361.2 572.5,362.5 C572,363.8 573.6,368.1 572.5,370 C571.4,371.9 564.4,378.4 562.5,380 C560.6,381.6 555.9,383.9 555,385 C554.1,386.1 553.3,388.9 554,390 C554.7,391.1 560.8,393.7 562,395 C563.2,396.3 564.2,401.5 565.6,402.5 C567,403.5 573.2,403.6 575,404.4 C576.8,405.2 580.7,409.3 582.5,410 C584.3,410.7 590.2,410.2 592,411 C593.8,411.8 598.3,416.1 599.4,417.5 C600.5,418.9 602.2,422.4 602,424 C601.8,425.6 598.4,431 597.5,432.5 C596.6,434 596.2,437.1 594,438 C591.8,438.9 578.9,440.3 577,441 C575.1,441.7 575.4,443.8 576,444.7 C576.6,445.6 581.4,448.1 582.5,449.4 C583.6,450.7 584.9,455.8 586,457 C587.1,458.2 592.4,459.6 593,461 C593.6,462.4 591.7,468.3 592,470 C592.3,471.7 595.5,474.5 596,477 C596.5,479.5 597.6,491.2 597,493 C596.4,494.8 590.9,493.6 590,494 C589.1,494.4 588.7,496.4 589,497 C589.3,497.6 593,499 593,500 C593,501 590,505.3 589,506 C588,506.7 585.2,507.6 584,507 C582.8,506.4 579.1,501.1 578,500 C576.9,498.9 575.1,497.1 574,497 C572.9,496.9 568.9,498.3 568,499 C567.1,499.7 565.9,503 566,504 C566.1,505 567.9,507.5 569,508 C570.1,508.5 574.2,508.8 576,509 C577.8,509.2 584.1,509.4 586,510 C587.9,510.6 592.5,513.9 594,515 C595.5,516.1 599.4,519.1 600,520 C600.6,520.9 600.4,522.3 600,523 C599.6,523.7 596,525.6 596,527 C596,528.4 598.9,534 600,536 C601.1,538 606,544.5 606,546 C606,547.5 601.9,549.3 600,550 C598.1,550.7 590.6,552.9 588,553 C585.4,553.1 579,551.3 576,551 C573,550.7 561.6,550.7 560,550 C558.4,549.3 561.1,545 561,544 C560.9,543 560.4,541.5 559,541 C557.6,540.5 549.7,539.6 548,539 C546.3,538.4 543.6,536.2 543,535 C542.4,533.8 542.4,529.2 542,528 C541.6,526.8 540.1,524.5 539,524 C537.9,523.5 533.5,523.5 532,523 C530.5,522.5 526.4,519.4 525,519 C523.6,518.6 520.1,518.5 519,519 C517.9,519.5 515.4,522.5 515,524 C514.6,525.5 515.5,531.5 515,533 C514.5,534.5 511.6,537 510,538 C508.4,539 501.9,541.6 500,542 C498.1,542.4 492.7,541.8 492,542 C491.3,542.2 491.9,543.4 493,544 C494.1,544.6 500.5,546.5 502,548 C503.5,549.5 506.6,556.3 507,558 C507.4,559.7 506.9,563.4 506,564 C505.1,564.6 499.9,563.7 499,564 C498.1,564.3 497.3,566.4 498,567 C498.7,567.6 504.7,568.8 506,570 C507.3,571.2 510.1,576.3 510,578 C509.9,579.7 505.3,584.8 505,586 C504.7,587.2 506.2,588.7 507.5,589 C508.8,589.3 515.9,588.5 517.5,589 C519.1,589.5 522.1,591.2 522.5,594 C522.9,596.8 521.5,612 521,615 C520.5,618 518.6,621.2 517.5,622.5 C516.4,623.8 513.4,626.6 511,627.5 C508.6,628.4 497.5,630.2 495,631 C492.5,631.8 488.5,633.6 487.5,635 C486.5,636.4 487.3,642.3 486,644 C484.7,645.7 476.6,649.8 475,651 C473.4,652.2 471.3,653.5 471,655 C470.7,656.5 473,662.6 472.5,665 C472,667.4 465.7,675.5 466,677.5 C466.3,679.5 473.9,682.4 475,684 C476.1,685.6 476.4,690.2 476,692.5 C475.6,694.8 472.2,703.7 471,706 C469.8,708.3 466.4,712.5 465,714 C463.6,715.5 456.7,718.9 457.5,720 C458.3,721.1 469.3,724.1 472.5,724 C475.7,723.9 484.6,719.4 487.5,719 C490.4,718.6 496.8,720.2 500,720 C503.2,719.8 514.6,717.1 517.5,717.5 C520.4,717.9 525.6,723.2 527.5,724 C529.4,724.8 533.9,723.8 535,725 C536.1,726.2 536.4,733.3 537.5,735 C538.6,736.7 542.9,741.8 545,741 C547.1,740.2 555.9,729.7 557.5,727.5 C559.1,725.3 558.7,722.1 560,720 C561.3,717.9 567.2,710.8 570,707.5 C572.8,704.2 586.8,691.3 586,689 C585.2,686.7 565.7,686.7 562.5,686 C559.3,685.3 557.1,683.8 556,682.5 C554.9,681.2 555.2,675.1 552.5,674 C549.8,672.9 533.3,675.2 531,672.5 C528.7,669.8 529.6,651.7 531,649 C532.4,646.3 542.5,646.4 544,647.5 C545.5,648.6 543.3,657.7 545,659 C546.7,660.3 557.2,659.3 560,660 C562.8,660.7 568.9,664.3 571,666 C573.1,667.7 578.9,674.5 580,676 C581.1,677.5 578.9,679.5 581,680 C583.1,680.5 594.5,681 600,681 C605.5,681 628.5,677.7 632.5,680 C636.5,682.3 636.2,696.9 637.5,702.5 C638.8,708.1 643.7,726.4 645,732.5 C646.3,738.6 649,754.7 650,760 C651,765.3 653.5,778.2 654,782.5 C654.5,786.8 654.6,797.6 655,800 C655.4,802.4 655.6,804.6 657.5,805 C659.4,805.4 670.6,803.9 672.5,804 C674.4,804.1 672.1,806.3 675,806 C677.9,805.7 694.7,801.5 700,801 C705.3,800.5 720.7,801.4 725,801 C729.3,800.6 736.5,798 740,797.5 C743.5,797 755.4,794.4 757.5,796 C759.6,797.6 759.5,808.9 760,812.5 C760.5,816.1 761.7,826.5 762.5,830 C763.3,833.5 766.2,842.9 767.5,845 C768.8,847.1 772.9,849.6 775,850 C777.1,850.4 785.6,848.5 787.5,849 C789.4,849.5 792.5,853.6 792.5,855 C792.5,856.4 788.3,860.4 787.5,862.5 C786.7,864.6 784.7,872.6 785,875 C785.3,877.4 788.9,883 790,885 C791.1,887 795,892.1 795,894 C795,895.9 792.1,901.3 790,902.5 C787.9,903.7 777.1,904.2 775,905 C772.9,905.8 771.2,909.5 770,910 C768.8,910.5 764.4,908.4 764,910 C763.6,911.6 764.6,921.5 766,925 C767.4,928.5 776.1,938.8 777.5,942.5 C778.9,946.2 778.5,956.8 779,960 C779.5,963.2 781.6,969.7 782.5,972.5 C783.4,975.3 788.3,984.9 787.5,986 C786.7,987.1 777.9,982.3 775,982.5 C772.1,982.7 763.5,986.8 760,987.5 C756.5,988.2 745.7,989 742.5,989 C739.3,989 732.4,986.8 730,987.5 C727.6,988.2 722.4,994.1 720,996 C717.6,997.9 710.2,1003.8 707.5,1005 C704.8,1006.2 697.7,1007.4 695,1007.5 C692.3,1007.6 684.6,1006.7 682.5,1006 C680.4,1005.3 676.3,1001.6 675,1001 C673.7,1000.4 671,999.7 670,1000 C669,1000.3 665.5,1002.9 666,1004 C666.5,1005.1 674.3,1008.8 675,1010 C675.7,1011.2 674.4,1013.7 672.5,1015 C670.6,1016.3 660.2,1020.4 657.5,1022.5 C654.8,1024.6 649.4,1032.9 647.5,1035 C645.6,1037.1 641.6,1041.4 640,1042.5 C638.4,1043.6 634.1,1045.3 632.5,1045 C630.9,1044.7 626.3,1041.5 625,1040 C623.7,1038.5 621.1,1032.1 620,1031 C618.9,1029.9 616.1,1029.6 615,1030 C613.9,1030.4 610.5,1033.7 610,1035 C609.5,1036.3 610.5,1041.4 610,1042.5 C609.5,1043.6 606.1,1045.7 605,1045 C603.9,1044.3 602.1,1037.1 600,1036 C597.9,1034.9 587.7,1034.7 585,1035 C582.3,1035.3 578.2,1038.7 575,1039 C571.8,1039.3 558.2,1037.3 555,1037.5 C551.8,1037.7 546.7,1039.8 545,1041 C543.3,1042.2 540.1,1048.1 539,1049 C537.9,1049.9 536,1049.9 535,1049.5 C534,1049.1 530.5,1046.4 530,1045 C529.5,1043.6 530.3,1037.6 530,1036 C529.7,1034.4 528.6,1030.7 527.5,1030 C526.4,1029.3 521.2,1029.8 520,1029 C518.8,1028.2 516.3,1024.8 516,1022.5 C515.7,1020.2 517.4,1010.3 517.5,1007.5 C517.6,1004.7 517.5,997.3 517,996 C516.5,994.7 513.8,994.7 512.5,995 C511.2,995.3 507.7,998.9 505,999 C502.3,999.1 490.2,996.7 487.5,996 C484.8,995.3 481.1,993.9 480,992.5 C478.9,991.1 478.3,984.3 477.5,982.5 C476.7,980.7 473.6,976.4 472.5,976 C471.4,975.6 468.3,977.5 467.5,979 C466.7,980.5 465.9,988.2 465,990 C464.1,991.8 460.1,994.7 459,996 C457.9,997.3 455,1001 455,1002.5 C455,1004 458.7,1008.4 459,1010 C459.3,1011.6 458.5,1016.2 457.5,1017.5 C456.5,1018.8 452.1,1021.8 450,1022.5 C447.9,1023.2 439.2,1024.3 437.5,1024 C435.8,1023.7 435.1,1020 434,1020 C432.9,1020 429.1,1023.7 427.5,1024 C425.9,1024.3 420.1,1023.5 419,1022.5 C417.9,1021.5 418,1016.2 417.5,1015 C417,1013.8 415.1,1011.1 414,1011 C412.9,1010.9 409,1013.3 407.5,1014 C406,1014.7 401.6,1017.6 400,1018 C398.4,1018.4 394.4,1017.3 392.5,1017.5 C390.6,1017.7 384.6,1019.3 382.5,1020 C380.4,1020.7 374.6,1024 372.5,1024 C370.4,1024 364.6,1020.9 362.5,1020 C360.4,1019.1 354.4,1015.7 352.5,1016 C350.6,1016.3 346.3,1020.7 345,1022.5 C343.7,1024.3 341.3,1031.1 340,1032.5 C338.7,1033.9 334.4,1036 332.5,1036 C330.6,1036 324.4,1033.7 322.5,1032.5 C320.6,1031.3 316.6,1026.8 315,1025 C313.4,1023.2 309.1,1017.3 307.5,1016 C305.9,1014.7 302.1,1012.3 300,1012.5 C297.9,1012.7 289.9,1016.7 287.5,1017.5 C285.1,1018.3 279.1,1020.5 277.5,1020 C275.9,1019.5 273.9,1014.4 272.5,1012.5 C271.1,1010.6 265.3,1004.3 264,1002.5 C262.7,1000.7 259.8,997.9 260,996 C260.2,994.1 265.6,987.2 266,985 C266.4,982.8 264.9,976.5 264,975 C263.1,973.5 259.5,971.1 257.5,971 C255.5,970.9 247.4,974 245,974 C242.6,974 236.9,971.9 235,971 C233.1,970.1 228.6,967.2 227.5,966 C226.4,964.8 224.8,961.2 225,960 C225.2,958.8 228.7,956.1 229,955 C229.3,953.9 228.6,950.8 227.5,950 C226.4,949.2 220.4,948.3 219,947.5 C217.6,946.7 214.4,943.9 214,942.5 C213.6,941.1 215.4,935.3 215,934 C214.6,932.7 211.6,929.6 210,930 C208.4,930.4 201.9,936.7 200,937.5 C198.1,938.3 194.1,938 192.5,937.5 C190.9,937 186.4,933.8 185,932.5 C183.6,931.2 179.5,926.4 179,925 C178.5,923.6 180.3,920.3 180,919 C179.7,917.7 176,913.7 176,912.5 C176,911.3 179.8,908.8 180,907.5 C180.2,906.2 178.8,901.2 177.5,900 C176.2,898.8 168.8,897 167.5,896 C166.2,895 166.6,891.7 165,891 C163.4,890.3 154,889.6 152.5,889 C151,888.4 150.3,885.7 151,885 C151.7,884.3 158.3,883.5 159,882.5 C159.7,881.5 159,876.9 157.5,876 C156,875.1 147.4,874.6 145,874 C142.6,873.4 136.3,871.2 135,870 C133.7,868.8 132.5,863.8 132.5,862.5 C132.5,861.2 133,858.7 135,857.5 C137,856.3 149.1,852.3 151,851 C152.9,849.7 153.1,846.3 152.5,845 C151.9,843.7 145.8,840.5 145,839 C144.2,837.5 144,832.2 145,831 C146,829.8 152.8,828.7 154,827.5 C155.2,826.3 156.2,821.4 156,820 C155.8,818.6 153.1,815.6 152.5,814 C151.9,812.4 151.1,806 150,805 C148.9,804 144.6,805.8 142.5,805 C140.4,804.2 132.9,800.3 130,797.5 C127.1,794.7 116.6,781.5 115,779 C113.4,776.5 114.4,775.4 115,774 C115.6,772.6 119.1,767.5 121,766 C122.9,764.5 131.1,761.4 132.5,760 C133.9,758.6 134.4,753.8 134,752.5 C133.6,751.2 129.5,748.4 129,747.5 C128.5,746.6 127.4,744.4 129,744 C130.6,743.6 142.2,744.9 144,744 C145.8,743.1 146.2,737.8 146,736 C145.8,734.2 143.9,729.2 142.5,727.5 C141.1,725.8 133.3,721.9 132.5,720 C131.7,718.1 135.4,712 135,710 C134.6,708 129.1,702.9 129,701 C128.9,699.1 133.8,693.9 134,692.5 C134.2,691.1 131.5,689.4 131,687.5 C130.5,685.6 130.3,676.8 129,675 C127.7,673.2 120.2,672.9 119,671 C117.8,669.1 118,659.7 117.5,657.5 C117,655.3 114.1,651.4 114.5,650 C114.9,648.6 120.8,645 121,644 C121.2,643 116.9,642.2 116,641 C115.1,639.8 112.6,634.7 112.5,632.5 C112.4,630.3 115.3,622.3 115.5,620 C115.7,617.7 114.9,612 114,611 C113.1,610 108.9,609.8 107.5,611 C106.1,612.2 102.2,620.8 101,622.5 C99.8,624.2 96.9,626.8 96,627 C95.1,627.2 92.6,625.3 92.5,624 C92.4,622.7 95,616.9 95,615 C95,613.1 94.1,606.9 92.5,606 C90.9,605.1 82,607.2 80,607 C78,606.8 74.6,605 74,604 C73.4,603 73.3,599.1 74,597.5 C74.7,595.9 80.8,590.6 81,589 C81.2,587.4 76.7,584.8 76,582.5 C75.3,580.2 73.8,571 74,567.5 C74.2,564 77.4,552.7 77.5,550 C77.6,547.3 75.9,544.1 75,542.5 C74.1,540.9 69.8,537.1 69,535 C68.2,532.9 68.4,524.6 67.5,522.5 C66.6,520.4 61.5,517 61,515 C60.5,513 63,505.7 62.5,504 C62,502.3 56.9,500 56,499 C55.1,498 53.1,496 54,494.5 C54.9,493 62.9,487.1 64,485 C65.1,482.9 64.9,476.9 64.5,475 C64.1,473.1 61.5,468.6 60,467.5 C58.5,466.4 51,466.2 50,465 C49,463.8 51.4,457.6 51,456 C50.6,454.4 47,451.6 46,450 C45,448.4 42,442.3 42,441 C42,439.7 45.1,439.2 46,437.5 C46.9,435.8 49,427.1 50,425 C51,422.9 53.9,420.2 55,417.5 C56.1,414.8 58.8,402.5 60,400 C61.2,397.5 64.9,394.8 66,394 C67.1,393.2 68.9,391.9 70,392.5 C71.1,393.1 75.4,397.6 76,400 C76.6,402.4 75.8,412.6 76,415 C76.2,417.4 76.3,421.6 77.5,422.5 C78.7,423.4 85.1,423.2 87.5,423 C89.9,422.8 97.3,421.6 100,421 C102.7,420.4 110.4,418.7 112.5,417.5 C114.6,416.3 118.1,412.1 120,410 C121.9,407.9 128.3,399.9 130,397.5 C131.7,395.1 135.5,389.5 136,387.5 C136.5,385.5 135.7,380.6 135,379 C134.3,377.4 129.5,374.1 129,372.5 C128.5,370.9 130.7,365.3 130,364 C129.3,362.7 124.2,361.4 122.5,360 C120.8,358.6 115.4,352.2 114,351 C112.6,349.8 109.4,349.7 109,349 C108.6,348.3 110.7,345 110,344 C109.3,343 103.5,341 102.5,340 C101.5,339 100.5,336 101,335 C101.5,334 106.8,332.6 107.5,331 C108.2,329.4 107,322 107.5,320 C108,318 110.9,313.9 112.5,312 C114.1,310.1 121.2,304.1 122.5,302 C123.8,299.9 123.8,294.3 125,292 C126.2,289.7 133.2,282.3 134,280 C134.8,277.7 131.6,271.9 132.5,270 C133.4,268.1 140.1,263.4 142.5,262.5 C144.9,261.6 152.9,262.8 155,262 C157.1,261.2 160.4,257.7 162.5,255 C164.6,252.3 172.6,240.7 175,237 C177.4,233.3 182.3,223.1 185,220 C187.7,216.9 197.2,209.6 200,207.9 C202.8,206.2 208.1,204.5 211,203.8 C213.9,203.1 223.4,201.4 227.5,201 C231.6,200.6 245.4,200.6 249.5,200.5 C253.6,200.4 263.4,200.5 265.5,200 C267.6,199.5 268.3,197.6 268.8,195.5 C269.3,193.4 270.2,183.5 270.5,180 C270.8,176.5 271.7,167 272,162.5 C272.3,158 272.5,140.7 273.4,137.8Z" fill="none" stroke="#1a1414" stroke-width="1.5" stroke-linejoin="round"/>
<g fill="none" stroke="#2a2a2a" stroke-width="1.2">
<rect x="41.5" y="35.5" width="754.0" height="1014.0"/>
<path d="M58.5,35.5 v-4.5 M58.5,1049.5 v4.5 M132.7,35.5 v-4.5 M132.7,1049.5 v4.5 M206.9,35.5 v-4.5 M206.9,1049.5 v4.5 M281.1,35.5 v-4.5 M281.1,1049.5 v4.5 M355.3,35.5 v-4.5 M355.3,1049.5 v4.5 M429.5,35.5 v-4.5 M429.5,1049.5 v4.5 M503.7,35.5 v-4.5 M503.7,1049.5 v4.5 M577.9,35.5 v-4.5 M577.9,1049.5 v4.5 M652.1,35.5 v-4.5 M652.1,1049.5 v4.5 M726.3,35.5 v-4.5 M726.3,1049.5 v4.5 M41.5,72 h-5 M795.5,72 h5 M41.5,168.8 h-5 M795.5,168.8 h5 M41.5,265.7 h-5 M795.5,265.7 h5 M41.5,362.5 h-5 M795.5,362.5 h5 M41.5,459.4 h-5 M795.5,459.4 h5 M41.5,556.2 h-5 M795.5,556.2 h5 M41.5,653.1 h-5 M795.5,653.1 h5 M41.5,749.9 h-5 M795.5,749.9 h5 M41.5,846.8 h-5 M795.5,846.8 h5 M41.5,943.6 h-5 M795.5,943.6 h5 M41.5,1040.5 h-5 M795.5,1040.5 h5"/>
</g>
<text class="ax" x="0" y="77" textLength="35" lengthAdjust="spacingAndGlyphs">47.4N</text>
<text class="ax" x="0" y="173.8" textLength="35" lengthAdjust="spacingAndGlyphs">47.2N</text>
<text class="ax" x="10.5" y="270.7" textLength="24.5" lengthAdjust="spacingAndGlyphs">47N</text>
<text class="ax" x="0" y="367.5" textLength="35" lengthAdjust="spacingAndGlyphs">46.8N</text>
<text class="ax" x="0" y="464.4" textLength="35" lengthAdjust="spacingAndGlyphs">46.6N</text>
<text class="ax" x="0" y="561.2" textLength="35" lengthAdjust="spacingAndGlyphs">46.4N</text>
<text class="ax" x="0" y="658.1" textLength="35" lengthAdjust="spacingAndGlyphs">46.2N</text>
<text class="ax" x="10.5" y="754.9" textLength="24.5" lengthAdjust="spacingAndGlyphs">46N</text>
<text class="ax" x="0" y="851.8" textLength="35" lengthAdjust="spacingAndGlyphs">45.8N</text>
<text class="ax" x="0" y="948.6" textLength="35" lengthAdjust="spacingAndGlyphs">45.6N</text>
<text class="ax" x="0" y="1045.5" textLength="35" lengthAdjust="spacingAndGlyphs">45.4N</text>
<text class="ax" x="38.8" y="1068" textLength="40.5" lengthAdjust="spacingAndGlyphs">123.8E</text>
<text class="ax" x="118.7" y="1068" textLength="29" lengthAdjust="spacingAndGlyphs">124E</text>
<text class="ax" x="187.2" y="1068" textLength="40.5" lengthAdjust="spacingAndGlyphs">124.2E</text>
<text class="ax" x="261.4" y="1068" textLength="40.5" lengthAdjust="spacingAndGlyphs">124.4E</text>
<text class="ax" x="335.6" y="1068" textLength="40.5" lengthAdjust="spacingAndGlyphs">124.6E</text>
<text class="ax" x="409.8" y="1068" textLength="40.5" lengthAdjust="spacingAndGlyphs">124.8E</text>
<text class="ax" x="489.7" y="1068" textLength="29" lengthAdjust="spacingAndGlyphs">125E</text>
<text class="ax" x="558.1" y="1068" textLength="40.5" lengthAdjust="spacingAndGlyphs">125.2E</text>
<text class="ax" x="632.4" y="1068" textLength="40.5" lengthAdjust="spacingAndGlyphs">125.4E</text>
<text class="ax" x="706.6" y="1068" textLength="40.5" lengthAdjust="spacingAndGlyphs">125.6E</text>
<g>
<circle cx="463" cy="95.8" r="2.4" fill="none" stroke="#46180e" stroke-width="1.7"/>
<text class="val" x="462.5" y="89">14</text>
<text class="st" transform="translate(465.5,98.7) scale(1,0.9)">四合</text>
<circle cx="544" cy="120.3" r="2.4" fill="none" stroke="#46180e" stroke-width="1.7"/>
<text class="val" x="543.5" y="113.5">13.6</text>
<text class="st" transform="translate(546.5,123.2) scale(1,0.9)">东兴</text>
<circle cx="358" cy="149.8" r="2.4" fill="none" stroke="#46180e" stroke-width="1.7"/>
<text class="val" x="357.5" y="143">12.2</text>
<text class="st" transform="translate(360.5,152.7) scale(1,0.9)">鹤鸣湖</text>
<circle cx="500" cy="149.8" r="2.4" fill="none" stroke="#46180e" stroke-width="1.7"/>
<text class="val" x="499.5" y="143">12.5</text>
<text class="st" transform="translate(502.5,152.7) scale(1,0.9)">宏伟</text>
<circle cx="445" cy="168.8" r="2.4" fill="none" stroke="#46180e" stroke-width="1.7"/>
<text class="val" x="444.5" y="162">15.1</text>
<text class="st" transform="translate(447.5,171.7) scale(1,0.9)">林甸镇</text>
<circle cx="340.5" cy="217.3" r="2.4" fill="none" stroke="#46180e" stroke-width="1.7"/>
<text class="val" x="340" y="210.5">13.6</text>
<text class="st" transform="translate(343,220.2) scale(1,0.9)">红旗</text>
<circle cx="503" cy="226.3" r="2.4" fill="none" stroke="#46180e" stroke-width="1.7"/>
<text class="val" x="502.5" y="219.5">16.3</text>
<text class="st" transform="translate(505.5,229.2) scale(1,0.9)">四季青</text>
<circle cx="218" cy="251.3" r="2.4" fill="none" stroke="#46180e" stroke-width="1.7"/>
<text class="st" transform="translate(220.5,254.2) scale(1,0.9)">烟筒屯</text>
<circle cx="474" cy="272.3" r="2.4" fill="none" stroke="#46180e" stroke-width="1.7"/>
<text class="val" x="473.5" y="265.5">14.5</text>
<text class="st" transform="translate(476.5,275.2) scale(1,0.9)">花园</text>
<circle cx="218" cy="300.3" r="2.4" fill="none" stroke="#46180e" stroke-width="1.7"/>
<text class="st" transform="translate(220.5,303.2) scale(1,0.9)">克尔台</text>
<circle cx="289" cy="344.3" r="2.4" fill="none" stroke="#46180e" stroke-width="1.7"/>
<text class="val" x="288.5" y="337.5">17</text>
<text class="st" transform="translate(291.5,347.2) scale(1,0.9)">杜尔伯特镇</text>
<circle cx="240" cy="372.3" r="2.4" fill="none" stroke="#46180e" stroke-width="1.7"/>
<text class="st" transform="translate(242.5,375.2) scale(1,0.9)">一心</text>
<circle cx="492.5" cy="372.3" r="2.4" fill="none" stroke="#46180e" stroke-width="1.7"/>
<text class="val" x="492" y="365.5">13.6</text>
<text class="st" transform="translate(495,375.2) scale(1,0.9)">春雷</text>
<circle cx="429.5" cy="396.3" r="2.4" fill="none" stroke="#46180e" stroke-width="1.7"/>
<text class="val" x="429" y="389.5">15.3</text>
<text class="st" transform="translate(432,399.2) scale(1,0.9)">喇嘛甸</text>
<circle cx="206" cy="401.3" r="2.4" fill="none" stroke="#46180e" stroke-width="1.7"/>
<text class="st" transform="translate(208.5,404.2) scale(1,0.9)">连环湖</text>
<circle cx="467" cy="429.3" r="2.4" fill="none" stroke="#46180e" stroke-width="1.7"/>
<text class="val" x="466.5" y="422.5">16.4</text>
<text class="st" transform="translate(469.5,432.2) scale(1,0.9)">儿童公园</text>
<circle cx="539" cy="466.3" r="2.4" fill="none" stroke="#46180e" stroke-width="1.7"/>
<text class="val" x="538.5" y="459.5">17</text>
<text class="st" transform="translate(541.5,469.2) scale(1,0.9)">东风新村</text>
<circle cx="100" cy="470.3" r="2.4" fill="none" stroke="#46180e" stroke-width="1.7"/>
<text class="st" transform="translate(102.5,473.2) scale(1,0.9)">江湾</text>
<circle cx="558" cy="492.3" r="2.4" fill="none" stroke="#46180e" stroke-width="1.7"/>
<text class="val" x="557.5" y="485.5">0</text>
<text class="st" transform="translate(560.5,495.2) scale(1,0.9)">龙凤</text>
<circle cx="184" cy="532.3" r="2.4" fill="none" stroke="#46180e" stroke-width="1.7"/>
<text class="st" transform="translate(186.5,535.2) scale(1,0.9)">胡吉吐莫</text>
<circle cx="407" cy="580.3" r="2.4" fill="none" stroke="#46180e" stroke-width="1.7"/>
<text class="st" transform="translate(409.5,583.2) scale(1,0.9)">林源</text>
<circle cx="225" cy="586.3" r="2.4" fill="none" stroke="#46180e" stroke-width="1.7"/>
<text class="st" transform="translate(227.5,589.2) scale(1,0.9)">敖林西伯</text>
<circle cx="151" cy="596.3" r="2.4" fill="none" stroke="#46180e" stroke-width="1.7"/>
<text class="st" transform="translate(153.5,599.2) scale(1,0.9)">巴彦查干</text>
<circle cx="429.5" cy="614.3" r="2.4" fill="none" stroke="#46180e" stroke-width="1.7"/>
<text class="val" x="429" y="607.5">17</text>
<text class="st" transform="translate(432,617.2) scale(1,0.9)">杏树岗</text>
<circle cx="366" cy="653.3" r="2.4" fill="none" stroke="#46180e" stroke-width="1.7"/>
<text class="st" transform="translate(368.5,656.2) scale(1,0.9)">高台子</text>
<circle cx="185" cy="677.8" r="2.4" fill="none" stroke="#46180e" stroke-width="1.7"/>
<text class="st" transform="translate(187.5,680.7) scale(1,0.9)">他拉哈</text>
<circle cx="307.5" cy="696.3" r="2.4" fill="none" stroke="#46180e" stroke-width="1.7"/>
<text class="st" transform="translate(310,699.2) scale(1,0.9)">双榆树</text>
<circle cx="410.5" cy="705.8" r="2.4" fill="none" stroke="#46180e" stroke-width="1.7"/>
<text class="st" transform="translate(413,708.7) scale(1,0.9)">大同</text>
<circle cx="596" cy="735.8" r="2.4" fill="none" stroke="#46180e" stroke-width="1.7"/>
<text class="val" x="595.5" y="729">16.2</text>
<text class="st" transform="translate(598.5,738.7) scale(1,0.9)">榆树</text>
<circle cx="180" cy="740.8" r="2.4" fill="none" stroke="#46180e" stroke-width="1.7"/>
<text class="st" transform="translate(182.5,743.7) scale(1,0.9)">腰新</text>
<circle cx="396" cy="759.3" r="2.4" fill="none" stroke="#46180e" stroke-width="1.7"/>
<text class="st" transform="translate(398.5,762.2) scale(1,0.9)">八井子</text>
<circle cx="574" cy="769.8" r="2.4" fill="none" stroke="#46180e" stroke-width="1.7"/>
<text class="val" x="573.5" y="763">0</text>
<text class="st" transform="translate(576.5,772.7) scale(1,0.9)">兴城</text>
<circle cx="322" cy="774.8" r="2.4" fill="none" stroke="#46180e" stroke-width="1.7"/>
<text class="st" transform="translate(324.5,777.7) scale(1,0.9)">太阳升</text>
<circle cx="485.5" cy="779.3" r="2.4" fill="none" stroke="#46180e" stroke-width="1.7"/>
<text class="st" transform="translate(488,782.2) scale(1,0.9)">祝三</text>
<circle cx="566.5" cy="813.3" r="2.4" fill="none" stroke="#46180e" stroke-width="1.7"/>
<text class="val" x="566" y="806.5">15.2</text>
<text class="st" transform="translate(569,816.2) scale(1,0.9)">永胜</text>
<circle cx="374" cy="818.3" r="2.4" fill="none" stroke="#46180e" stroke-width="1.7"/>
<text class="st" transform="translate(376.5,821.2) scale(1,0.9)">老山头</text>
<circle cx="192" cy="822.8" r="2.4" fill="none" stroke="#46180e" stroke-width="1.7"/>
<text class="st" transform="translate(194.5,825.7) scale(1,0.9)">古龙</text>
<circle cx="470.5" cy="827.8" r="2.4" fill="none" stroke="#46180e" stroke-width="1.7"/>
<text class="val" x="470" y="821">16.2</text>
<text class="st" transform="translate(473,830.7) scale(1,0.9)">新福</text>
<circle cx="697" cy="832.8" r="2.4" fill="none" stroke="#46180e" stroke-width="1.7"/>
<text class="val" x="696.5" y="826">11.5</text>
<text class="st" transform="translate(699.5,835.7) scale(1,0.9)">二井子</text>
<circle cx="280.5" cy="847.3" r="2.4" fill="none" stroke="#46180e" stroke-width="1.7"/>
<text class="st" transform="translate(283,850.2) scale(1,0.9)">义顺</text>
<circle cx="637" cy="857.3" r="2.4" fill="none" stroke="#46180e" stroke-width="1.7"/>
<text class="val" x="636.5" y="850.5">16</text>
<text class="st" transform="translate(639.5,860.2) scale(1,0.9)">丰乐</text>
<circle cx="567" cy="861.3" r="2.4" fill="none" stroke="#46180e" stroke-width="1.7"/>
<text class="val" x="566.5" y="854.5">4.5</text>
<text class="st" transform="translate(569.5,864.2) scale(1,0.9)">双发</text>
<circle cx="722.5" cy="875.3" r="2.4" fill="none" stroke="#46180e" stroke-width="1.7"/>
<text class="val" x="722" y="868.5">17.2</text>
<text class="st" transform="translate(725,878.2) scale(1,0.9)">朝阳沟</text>
<circle cx="340.5" cy="880.8" r="2.4" fill="none" stroke="#46180e" stroke-width="1.7"/>
<text class="st" transform="translate(343,883.7) scale(1,0.9)">大兴</text>
<circle cx="503" cy="880.8" r="2.4" fill="none" stroke="#46180e" stroke-width="1.7"/>
<text class="val" x="502.5" y="874">15.6</text>
<text class="st" transform="translate(505.5,883.7) scale(1,0.9)">永乐</text>
<circle cx="689" cy="900.8" r="2.4" fill="none" stroke="#46180e" stroke-width="1.7"/>
<text class="val" x="688.5" y="894">12.1</text>
<text class="st" transform="translate(691.5,903.7) scale(1,0.9)">朝阳</text>
<circle cx="410.5" cy="904.3" r="2.4" fill="none" stroke="#46180e" stroke-width="1.7"/>
<text class="val" x="410" y="897.5">15.3</text>
<text class="st" transform="translate(413,907.2) scale(1,0.9)">头台</text>
<circle cx="574" cy="904.8" r="2.4" fill="none" stroke="#46180e" stroke-width="1.7"/>
<text class="val" x="573.5" y="898">15.2</text>
<text class="st" transform="translate(576.5,907.7) scale(1,0.9)">肇州镇</text>
<circle cx="219.5" cy="911.3" r="2.4" fill="none" stroke="#46180e" stroke-width="1.7"/>
<text class="val" x="219" y="904.5">9.8</text>
<text class="st" transform="translate(222,914.2) scale(1,0.9)">新站</text>
<circle cx="280.5" cy="910.3" r="2.4" fill="none" stroke="#46180e" stroke-width="1.7"/>
<text class="val" x="280" y="903.5">0</text>
<text class="st" transform="translate(283,913.2) scale(1,0.9)">浩德</text>
<circle cx="640.5" cy="924.3" r="2.4" fill="none" stroke="#46180e" stroke-width="1.7"/>
<text class="val" x="640" y="917.5">16.2</text>
<text class="st" transform="translate(643,927.2) scale(1,0.9)">托古</text>
<circle cx="727" cy="938.3" r="2.4" fill="none" stroke="#46180e" stroke-width="1.7"/>
<text class="val" x="726.5" y="931.5">16</text>
<text class="st" transform="translate(729.5,941.2) scale(1,0.9)">福兴</text>
<circle cx="540.5" cy="958.3" r="2.4" fill="none" stroke="#46180e" stroke-width="1.7"/>
<text class="val" x="540" y="951.5">15.2</text>
<text class="st" transform="translate(543,961.2) scale(1,0.9)">和平</text>
<circle cx="452" cy="963.3" r="2.4" fill="none" stroke="#46180e" stroke-width="1.7"/>
<text class="val" x="451.5" y="956.5">14.7</text>
<text class="st" transform="translate(454.5,966.2) scale(1,0.9)">古恰</text>
<circle cx="331.5" cy="964.8" r="2.4" fill="none" stroke="#46180e" stroke-width="1.7"/>
<text class="val" x="331" y="958">16.3</text>
<text class="st" transform="translate(334,967.7) scale(1,0.9)">茂兴</text>
<circle cx="704" cy="977.8" r="2.4" fill="none" stroke="#46180e" stroke-width="1.7"/>
<text class="st" transform="translate(706.5,980.7) scale(1,0.9)">三站</text>
<circle cx="634" cy="982.3" r="2.4" fill="none" stroke="#46180e" stroke-width="1.7"/>
<text class="val" x="633.5" y="975.5">16.7</text>
<text class="st" transform="translate(636.5,985.2) scale(1,0.9)">薄荷台</text>
<circle cx="287" cy="992.8" r="2.4" fill="none" stroke="#46180e" stroke-width="1.7"/>
<text class="val" x="286.5" y="986">16.4</text>
<text class="st" transform="translate(289.5,995.7) scale(1,0.9)">民意</text>
<circle cx="397" cy="992.8" r="2.4" fill="none" stroke="#46180e" stroke-width="1.7"/>
<text class="val" x="396.5" y="986">16.4</text>
<text class="st" transform="translate(399.5,995.7) scale(1,0.9)">超等</text>
<circle cx="536" cy="1001.3" r="2.4" fill="none" stroke="#46180e" stroke-width="1.7"/>
<text class="val" x="535.5" y="994.5">15</text>
<text class="st" transform="translate(538.5,1004.2) scale(1,0.9)">肇源镇</text>
<circle cx="604" cy="1012.3" r="2.4" fill="none" stroke="#46180e" stroke-width="1.7"/>
<text class="st" transform="translate(606.5,1015.2) scale(1,0.9)">二站</text>
</g>
<text class="cr" x="52" y="1029.5" textLength="104" lengthAdjust="spacing">制作：大庆市气象台</text>
<text class="cr" x="169" y="1029.5" textLength="68.5" lengthAdjust="spacingAndGlyphs" style="fill:#222;font-size:12.5px">2020年9月8日</text>
<text class="tc"><tspan class="tl" x="185.6" y="20.7">2020</tspan><tspan class="tc" x="231.8" y="21.3">年</tspan><tspan class="tl" x="256" y="20.7">9</tspan><tspan class="tc" x="267.3" y="21.3">月</tspan><tspan class="tl" x="291" y="20.7">7</tspan><tspan class="tc" x="302.3" y="21.3">日</tspan><tspan class="tl" x="325.6" y="20.7">20</tspan><tspan class="tc" x="347.3" y="21.3">时</tspan><tspan class="tc" x="372.3" y="21.3">～</tspan><tspan class="tl" x="395.6" y="20.7">8</tspan><tspan class="tc" x="407.3" y="21.3">日</tspan><tspan class="tl" x="432" y="20.7">11</tspan><tspan class="tc" x="453.3" y="21.3">时</tspan><tspan class="tc" x="477.3" y="21.3">极</tspan><tspan class="tc" x="500.8" y="21.3">大</tspan><tspan class="tc" x="523.3" y="21.3">风</tspan><tspan class="tc" x="546.8" y="21.3">速</tspan><tspan class="tc" x="570.8" y="21.3">分</tspan><tspan class="tc" x="594.3" y="21.3">布</tspan><tspan class="tc" x="617.3" y="21.3">图</tspan></text>
<rect x="160" y="1081.5" width="41.7" height="17.0" fill="#FFFFFF" stroke="#222" stroke-width="1"/>
<rect x="201.7" y="1081.5" width="41.7" height="17.0" fill="#6CFCFC" stroke="#222" stroke-width="1"/>
<rect x="243.3" y="1081.5" width="41.7" height="17.0" fill="#00E848" stroke="#222" stroke-width="1"/>
<rect x="285" y="1081.5" width="41.7" height="17.0" fill="#C4FC5C" stroke="#222" stroke-width="1"/>
<rect x="326.6" y="1081.5" width="41.7" height="17.0" fill="#FFFF00" stroke="#222" stroke-width="1"/>
<rect x="368.3" y="1081.5" width="41.7" height="17.0" fill="#F8AC38" stroke="#222" stroke-width="1"/>
<rect x="409.9" y="1081.5" width="41.7" height="17.0" fill="#FB833E" stroke="#222" stroke-width="1"/>
<rect x="451.6" y="1081.5" width="41.7" height="17.0" fill="#E84C00" stroke="#222" stroke-width="1"/>
<rect x="493.2" y="1081.5" width="41.7" height="17.0" fill="#FF0000" stroke="#222" stroke-width="1"/>
<rect x="534.9" y="1081.5" width="41.7" height="17.0" fill="#B808C8" stroke="#222" stroke-width="1"/>
<rect x="576.5" y="1081.5" width="41.7" height="17.0" fill="#640038" stroke="#222" stroke-width="1"/>
<rect x="618.2" y="1081.5" width="41.7" height="17.0" fill="#7C3C04" stroke="#222" stroke-width="1"/>
<rect x="659.8" y="1081.5" width="41.7" height="17.0" fill="#40003C" stroke="#222" stroke-width="1"/>
<text class="lg" x="154.5" y="1115.5" textLength="13" lengthAdjust="spacingAndGlyphs">0</text>
<text class="lg" x="186.2" y="1115.5" textLength="33" lengthAdjust="spacingAndGlyphs">0.3</text>
<text class="lg" x="227.8" y="1115.5" textLength="33" lengthAdjust="spacingAndGlyphs">1.6</text>
<text class="lg" x="269.5" y="1115.5" textLength="33" lengthAdjust="spacingAndGlyphs">3.4</text>
<text class="lg" x="311.1" y="1115.5" textLength="33" lengthAdjust="spacingAndGlyphs">5.5</text>
<text class="lg" x="362.8" y="1115.5" textLength="13" lengthAdjust="spacingAndGlyphs">8</text>
<text class="lg" x="387.4" y="1115.5" textLength="47" lengthAdjust="spacingAndGlyphs">10.8</text>
<text class="lg" x="429.1" y="1115.5" textLength="47" lengthAdjust="spacingAndGlyphs">13.9</text>
<text class="lg" x="470.7" y="1115.5" textLength="47" lengthAdjust="spacingAndGlyphs">17.2</text>
<text class="lg" x="512.4" y="1115.5" textLength="47" lengthAdjust="spacingAndGlyphs">20.8</text>
<text class="lg" x="554" y="1115.5" textLength="47" lengthAdjust="spacingAndGlyphs">24.5</text>
<text class="lg" x="595.7" y="1115.5" textLength="47" lengthAdjust="spacingAndGlyphs">28.5</text>
<text class="lg" x="637.3" y="1115.5" textLength="47" lengthAdjust="spacingAndGlyphs">32.7</text>
<text class="ftp" transform="translate(101,1254) scale(1.5,1.1)" x="0" y="0">（</text>
<text class="ft"><tspan class="ft" x="155" y="1252">下</tspan><tspan class="ft" x="199" y="1252">次</tspan><tspan class="ft" x="241" y="1252">信</tspan><tspan class="ft" x="283" y="1252">息</tspan><tspan class="ft" x="326" y="1252">报</tspan><tspan class="ft" x="370" y="1252">送</tspan><tspan class="ft" x="412" y="1252">时</tspan><tspan class="ft" x="454" y="1252">间</tspan><tspan class="ftl" x="497" y="1252">8</tspan><tspan class="ft" x="541" y="1252">日</tspan><tspan class="ftl" x="594" y="1252">14</tspan><tspan class="ft" x="647" y="1252">时</tspan></text>
<text class="ftp" transform="translate(700,1254) scale(1.5,1.1)" x="0" y="0">）</text>
</svg></body></html>
